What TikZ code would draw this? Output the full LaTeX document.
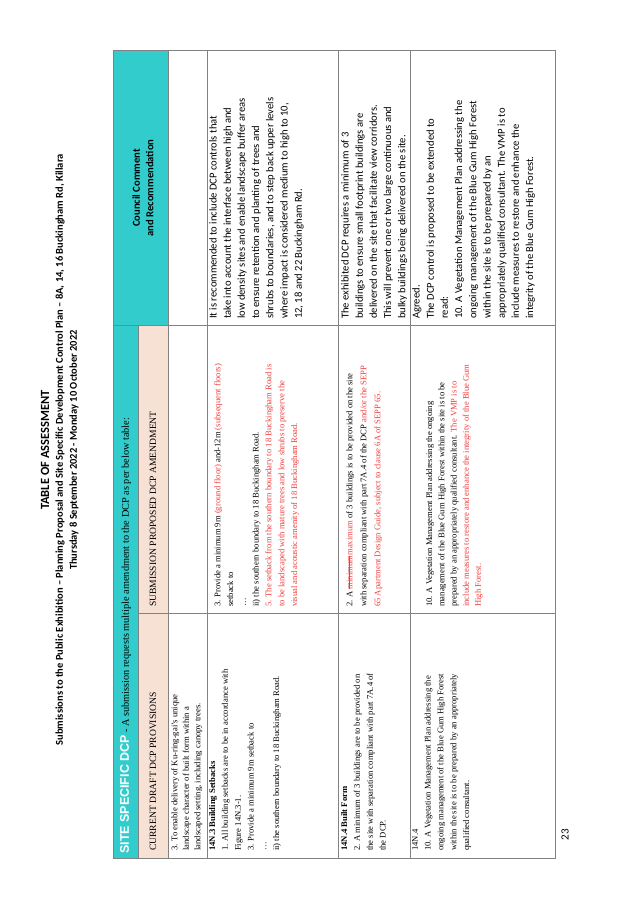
\documentclass[tikz,border=0pt]{standalone}
\usepackage{fontspec}
\setmainfont{Liberation Serif}
\setsansfont{Carlito}
\newfontfamily\headfont{Liberation Sans}
\usetikzlibrary{calc}
\definecolor{dcpcyan}{RGB}{51,204,204}
\definecolor{dcpsalmon}{RGB}{246,225,212}
\definecolor{dcpred}{RGB}{240,60,60}
\definecolor{dcpgrid}{RGB}{130,130,130}
\newcommand{\rd}[1]{\textcolor{dcpred}{#1}}
\newcommand{\strikeword}[1]{\setbox0\hbox{#1}\rlap{\rule[0.28em]{\wd0}{0.4pt}}\box0}
\tikzset{
	cell/.style={rotate=90, anchor=north west, align=left, inner sep=0pt},
	provtext/.style={cell, font=\fontsize{8.6}{12.8}\selectfont},
	commtext/.style={cell, font=\sffamily\fontsize{10.6}{14.2}\selectfont},
	titletext/.style={rotate=90, font=\sffamily\bfseries\fontsize{10.5}{12}\selectfont},
	gridline/.style={draw=dcpgrid, line width=0.6pt}
}
\begin{document}
\begin{tikzpicture}[x=1pt,y=1pt]
	\useasboundingbox (0,0) rectangle (638,900);
	% title lines
	\node[titletext, font=\sffamily\bfseries\fontsize{12.5}{14}\selectfont] (title) at (45,450) {TABLE OF ASSESSMENT};
	\node[titletext] (subtitle) at (60,450) {Submissions to the Public Exhibition -- Planning Proposal and Site Specific Development Control Plan -- 8A, 14, 16 Buckingham Rd, Killara};
	\node[titletext] (datetitle) at (74,450) {Thursday 8 September 2022 - Monday 10 October 2022};

	% header cells
	\fill[dcpcyan] (113,42) rectangle (138,575);
	\fill[dcpcyan] (113,575) rectangle (168,850);
	\fill[dcpsalmon] (138,42) rectangle (168,575);
	\node[cell, anchor=west, font=\fontsize{10.3}{12}\selectfont] (band) at (125.5,46) {{\headfont\bfseries\fontsize{12.5}{13}\selectfont\color{white}SITE SPECIFIC DCP} - A submission requests multiple amendment to the DCP as per below table:};
	\node[rotate=90, align=center, font=\sffamily\bfseries\fontsize{10.6}{13.5}\selectfont] (commhead) at (143,712) {Council Comment\\and Recommendation};
	\node[cell, anchor=west, font=\fontsize{9.6}{11}\selectfont] (provhead) at (153,49) {CURRENT DRAFT DCP PROVISIONS};
	\node[cell, anchor=west, font=\fontsize{9.6}{11}\selectfont] (amendhead) at (153,293) {SUBMISSION PROPOSED DCP AMENDMENT};

	% grid
	\draw[gridline] (113,42) rectangle (555,850);
	\draw[gridline] (138,287) -- (555,287);
	\draw[gridline] (113,575) -- (555,575);
	\foreach \rowx in {138} \draw[gridline] (\rowx,42) -- (\rowx,575);
	\foreach \rowx in {168,207,338,410} \draw[gridline] (\rowx,42) -- (\rowx,850);

	% row 1
	\node[provtext, font=\fontsize{8.6}{11.5}\selectfont] (prov1) at (171,49) {3. To enable delivery of Ku-ring-gai's unique\\landscape character of built form within a\\landscaped setting, including canopy trees.};

	% row 2
	\node[provtext] (prov2) at (209,49) {\textbf{14N.3 Building Setbacks}\\1. All building setbacks are to be in accordance with\\Figure 14N.3-1.\\3. Provide a minimum 9m setback to\\\dots\\ii) the southern boundary to 18 Buckingham Road.};
	\node[provtext] (amend2) at (214,293) {3. Provide a minimum 9m \rd{(ground floor)} and-12m \rd{(subsequent floors)}\\setback to\\\dots\\ii) the southern boundary to 18 Buckingham Road.\\\rd{5. The setback from the southern boundary to 18 Buckingham Road is}\\\rd{to be landscaped with mature trees and low shrubs to preserve the}\\\rd{visual and acoustic amenity of 18 Buckingham Road.}};
	\node[commtext] (comm2) at (209,581) {It is recommended to include DCP controls that\\take into account the interface between high and\\low density sites and enable landscape buffer areas\\to ensure retention and planting of trees and\\shrubs to boundaries, and to step back upper levels\\where impact is considered medium to high to 10,\\12, 18 and 22 Buckingham Rd.};

	% row 3
	\node[provtext] (prov3) at (341,49) {\textbf{14N.4 Built Form}\\2. A minimum of 3 buildings are to be provided on\\the site with separation compliant with part 7A.4 of\\the DCP.};
	\node[provtext, font=\fontsize{8.6}{14}\selectfont] (amend3) at (346,293) {2. A \rd{\strikeword{minimum} maximum} of 3 buildings is to be provided on the site\\with separation compliant with part 7A.4 of the DCP \rd{and/or the SEPP}\\\rd{65 Apartment Design Guide, subject to clause 6A of SEPP 65.}};
	\node[commtext] (comm3) at (341,581) {The exhibited DCP requires a minimum of 3\\buildings to ensure small footprint buildings are\\delivered on the site that facilitate view corridors.\\This will prevent one or two large continuous and\\bulky buildings being delivered on the site.};

	% row 4
	\node[provtext] (prov4) at (412,49) {14N.4\\10. A Vegetation Management Plan addressing the\\ongoing management of the Blue Gum High Forest\\within the site is to be prepared by an appropriately\\qualified consultant.};
	\node[provtext, font=\fontsize{8.6}{12.2}\selectfont] (amend4) at (426,293) {10. A Vegetation Management Plan addressing the ongoing\\management of the Blue Gum High Forest within the site is to be\\prepared by an appropriately qualified consultant. \rd{The VMP is to}\\\rd{include measures to restore and enhance the integrity of the Blue Gum}\\\rd{High Forest.}};
	\node[commtext] (comm4) at (412,581) {Agreed.\\The DCP control is proposed to be extended to\\read:\\10. A Vegetation Management Plan addressing the\\ongoing management of the Blue Gum High Forest\\within the site is to be prepared by an\\appropriately qualified consultant. The VMP is to\\include measures to restore and enhance the\\integrity of the Blue Gum High Forest.};

	% page number
	\node[rotate=90, font=\sffamily\fontsize{11}{12}\selectfont] (pagenum) at (565,65) {23};
\end{tikzpicture}
\end{document}
